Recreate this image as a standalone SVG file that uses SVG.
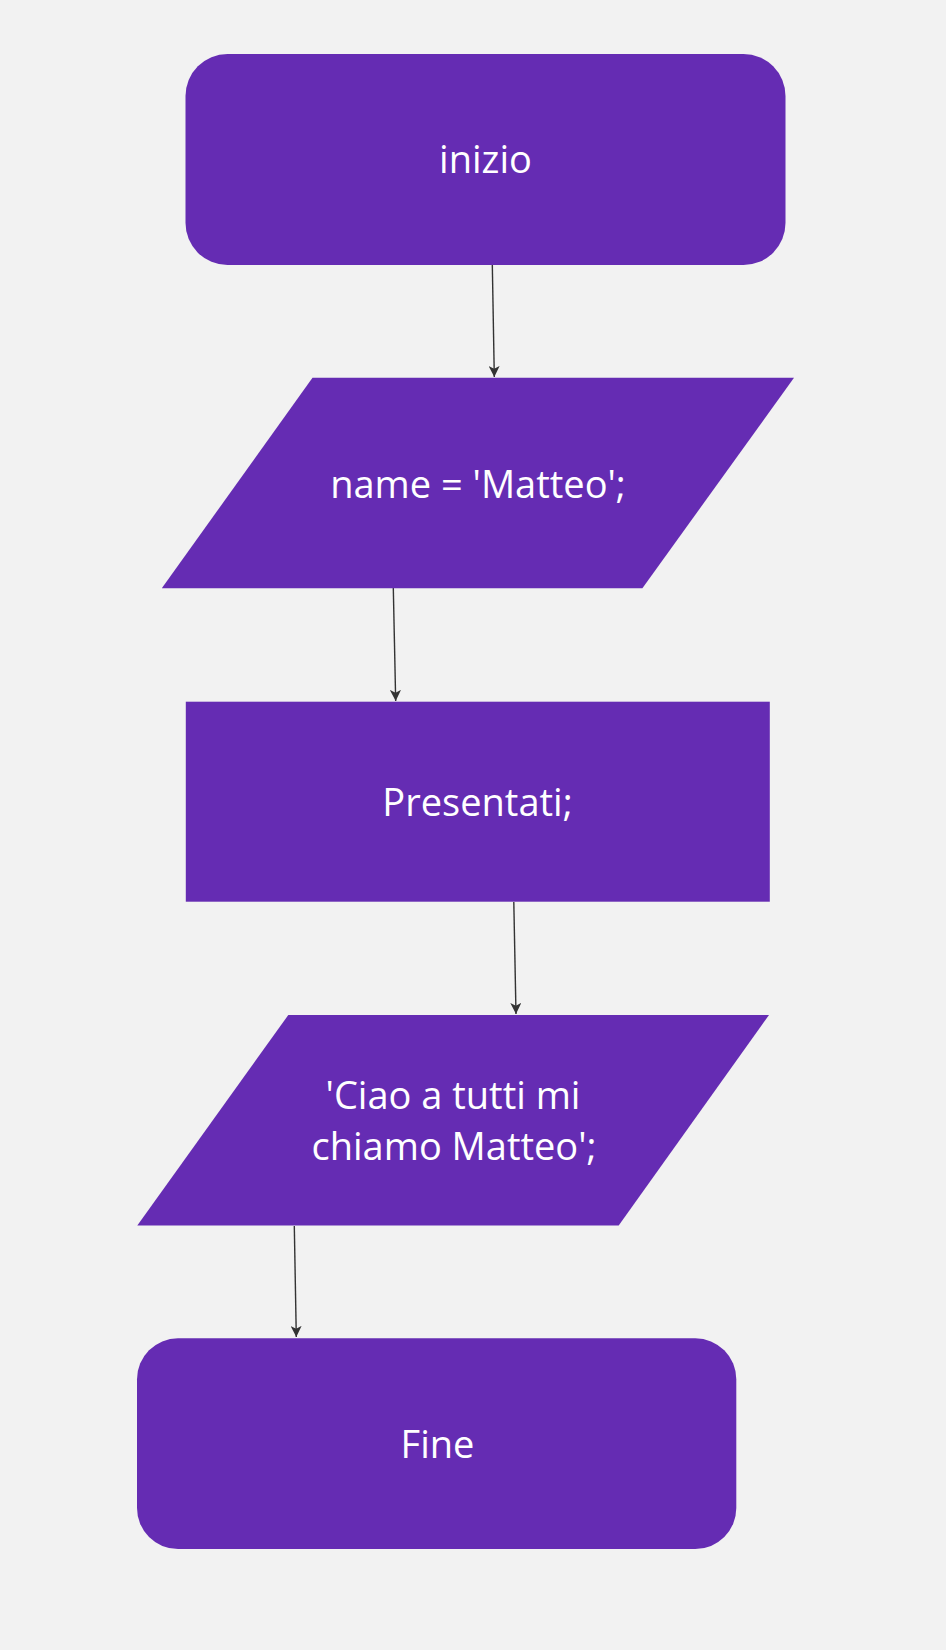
<svg xmlns="http://www.w3.org/2000/svg" width="946" height="1650" viewBox="0 0 946 1650">
  <style>
    .shape { fill: #652CB3; }
    .label { fill: #FFFFFF; font-family: "Open Sans", "Noto Sans", sans-serif; font-size: 38px; text-anchor: middle; }
    .conn { stroke: #333333; stroke-width: 1.4; fill: none; marker-end: url(#arrow); }
  </style>
  <defs>
    <marker id="arrow" viewBox="0 0 10 10" refX="10" refY="5" markerWidth="11" markerHeight="11" markerUnits="userSpaceOnUse" orient="auto">
      <path d="M0,0 L10,5 L0,10 L2.5,5 Z" fill="#333333"/>
    </marker>
  </defs>
  <rect x="0" y="0" width="946" height="1650" fill="#F2F2F2"/>

  <g id="connectors">
    <path class="conn" d="M492.3,264 Q493.5,320 494.3,377"/>
    <path class="conn" d="M393.3,588 Q394.6,645 395.7,701"/>
    <path class="conn" d="M513.8,902 Q515,958 516,1014"/>
    <path class="conn" d="M294.3,1226 Q295.3,1282 296.3,1337"/>
  </g>

  <g id="node-inizio">
    <rect class="shape" x="185.5" y="54" width="600" height="211" rx="42" ry="42"/>
    <text class="label" x="485.5" y="173">inizio</text>
  </g>

  <g id="node-name">
    <polygon class="shape" points="312.5,377.7 794,377.7 642.4,588.3 161.8,588.3"/>
    <text class="label" x="478" y="498">name = 'Matteo';</text>
  </g>

  <g id="node-presentati">
    <rect class="shape" x="185.8" y="701.7" width="584" height="200"/>
    <text class="label" x="477.5" y="816">Presentati;</text>
  </g>

  <g id="node-ciao">
    <polygon class="shape" points="288.3,1015 769,1015 618.7,1225.5 137.3,1225.5"/>
    <text class="label" x="453" y="1109">'Ciao a tutti mi</text>
    <text class="label" x="454" y="1160">chiamo Matteo';</text>
  </g>

  <g id="node-fine">
    <rect class="shape" x="137" y="1338.3" width="599.3" height="210.7" rx="41" ry="41"/>
    <text class="label" x="437.5" y="1458">Fine</text>
  </g>
</svg>
